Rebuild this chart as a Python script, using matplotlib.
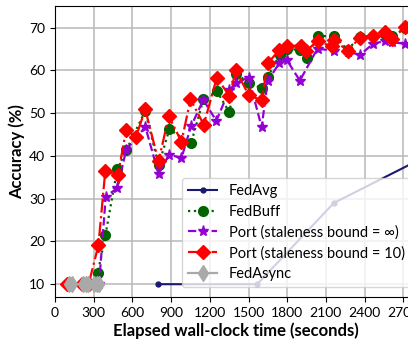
import matplotlib
matplotlib.use("Agg")
import matplotlib.pyplot as plt

plt.rcParams['font.family'] = ['Lato', 'DejaVu Sans']

# ---- data ----
fedavg_t = [800, 1567, 2162, 2950]
fedavg_acc = [10.0, 10.0, 29.0, 41.0]

fedbuff_t = [100, 215, 305, 332, 390, 482, 553, 699, 803, 886, 1054, 1150, 1255, 1352, 1404,
             1501, 1602, 1648, 1742, 1801, 1898, 1953, 2035, 2165, 2268, 2365, 2465, 2559, 2614, 2714]
fedbuff_acc = [10, 10, 10, 12.7, 21.4, 36.9, 41.4, 50.5, 37.8, 46.2, 42.9, 53.2, 55.1, 50.2, 59.2,
               57.1, 55.8, 58.4, 63.6, 65.0, 64.8, 63.0, 68.0, 68.0, 64.8, 67.9, 68.0, 68.4, 68.0, 69.8]

port_inf_t = [341, 393, 484, 551, 700, 802, 885, 980, 1054, 1150, 1250, 1352, 1403, 1501, 1602,
              1648, 1736, 1795, 1898, 2035, 2165, 2268, 2365, 2465, 2559, 2614, 2714]
port_inf_acc = [10, 30.5, 32.5, 41.4, 46.8, 35.8, 40.3, 39.5, 46.9, 53.1, 48.2, 55.4, 57.1, 58.3, 46.7,
                57.4, 61.6, 62.5, 57.6, 65.1, 64.5, 64.4, 63.6, 66.2, 66.9, 66.6, 66.2]

port10_t = [95, 210, 260, 336, 389, 487, 551, 628, 699, 802, 882, 980, 1050, 1153, 1254, 1352, 1403,
            1501, 1602, 1648, 1740, 1795, 1904, 1947, 2035, 2145, 2163, 2268, 2364, 2465, 2559, 2614, 2714]
port10_acc = [10, 10, 10, 19.1, 36.4, 35.5, 46.0, 44.5, 50.9, 38.7, 49.3, 43.3, 53.2, 47.3, 58.3, 54.0, 60.0,
              54.2, 53.0, 61.6, 64.8, 65.7, 65.8, 64.6, 66.8, 65.6, 67.1, 64.6, 67.6, 68.1, 69.0, 67.4, 70.1]

fedasync_t = [107, 133, 218, 240, 255, 304, 322, 343]
fedasync_acc = [10, 10, 10, 10, 10, 10, 10, 10]

labels = ["FedAvg", "FedBuff", "Port (staleness bound = \u221e)",
          "Port (staleness bound = 10)", "FedAsync"]
xticks = [0, 300, 600, 900, 1200, 1500, 1800, 2100, 2400, 2700]
yticks = [10, 20, 30, 40, 50, 60, 70]

# ---- figure ----
fig = plt.figure(figsize=(4.08, 3.43), dpi=100)
ax = fig.add_axes([0.135, 0.134, 0.885, 0.848])

ax.plot(fedavg_t, fedavg_acc, color='midnightblue', linestyle='-', marker='o',
        markersize=3.5, linewidth=1.5, label=labels[0])
ax.plot(fedbuff_t, fedbuff_acc, color='darkgreen', linestyle=':', marker='o',
        markersize=7, linewidth=1.6, label=labels[1])
ax.plot(port_inf_t, port_inf_acc, color='darkviolet', linestyle='--', marker='*',
        markersize=8, linewidth=1.6, label=labels[2])
ax.plot(port10_t, port10_acc, color='red', linestyle='-.', marker='D',
        markersize=7.5, linewidth=1.6, label=labels[3])
ax.plot(fedasync_t, fedasync_acc, color='darkgrey', linestyle='-', marker='d',
        markersize=8.5, linewidth=1.6, label=labels[4])

ax.set_xlim(0, 2800)
ax.set_ylim(7, 75)
ax.set_xticks(xticks)
ax.set_yticks(yticks)
ax.tick_params(labelsize=10, length=3.5)
ax.grid(True, color='#b8b8b8', linewidth=1.1)
ax.set_axisbelow(True)

ax.set_xlabel("Elapsed wall-clock time (seconds)", fontsize=12, fontweight='bold', labelpad=3)
ax.set_ylabel("Accuracy (%)", fontsize=12, fontweight='bold', labelpad=3)

ax.legend(loc='lower right', bbox_to_anchor=(0.985, 0.035), borderaxespad=0,
          fontsize=10.5, handlelength=2.0, labelspacing=0.45)

fig.savefig("out.png", dpi=100)
